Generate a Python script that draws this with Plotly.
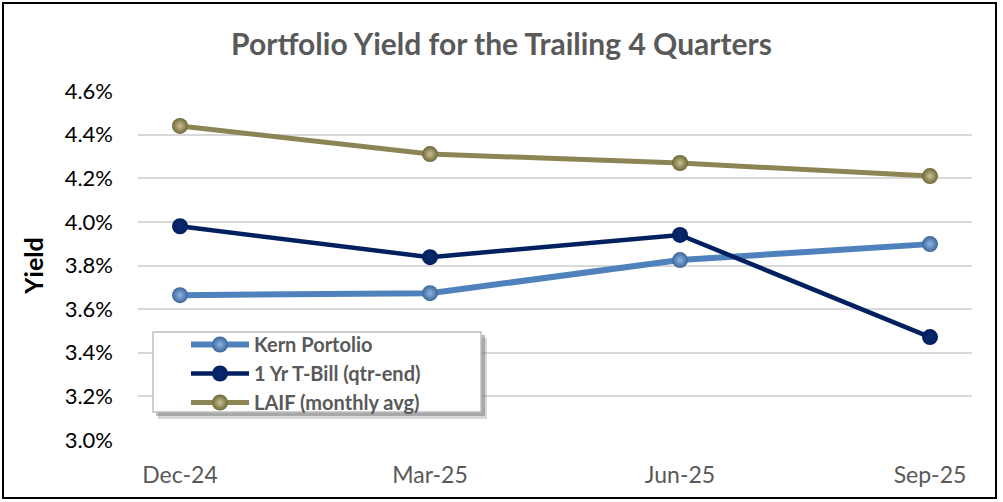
import plotly.graph_objects as go

categories = ["Dec-24", "Mar-25", "Jun-25", "Sep-25"]
kern = [3.664, 3.673, 3.825, 3.898]
tbill = [3.98, 3.838, 3.94, 3.472]
laif = [4.44, 4.311, 4.27, 4.21]
y_ticks = [3.0, 3.2, 3.4, 3.6, 3.8, 4.0, 4.2, 4.4, 4.6]
y_tick_labels = [f"{v:.1f}%" for v in y_ticks]

FONT = "Lato, Open Sans, sans-serif"

fig = go.Figure()
series = [
    ("Kern Portolio", kern, "#4F81BD", 6, "#3A6699", "#8DB6E6"),
    ("1 Yr T-Bill (qtr-end)", tbill, "#002060", 4.5, "#002060", "#0A2A6E"),
    ("LAIF (monthly avg)", laif, "#8C8455", 5, "#6E6738", "#C9C191"),
]
for name, vals, col, w, mcol, hi in series:
    fig.add_trace(go.Scatter(
        x=list(range(len(categories))), y=vals, name=f"<b>{name}</b>", mode="lines+markers",
        line=dict(color=col, width=w),
        marker=dict(size=16, color=mcol, gradient=dict(type="radial", color=hi),
                    line=dict(width=0)),
    ))

# plot area pixel geometry
L, R, T, B = 138, 31, 91, 62
W = 1003 - L - R
H = 502 - T - B

def px(x):
    return (x - L) / W

def py(y):
    return (502 - B - y) / H

shapes = [
    # outer border
    dict(type="rect", xref="paper", yref="paper", x0=px(3), x1=px(996), y0=py(498), y1=py(3),
         line=dict(color="black", width=2), fillcolor="rgba(0,0,0,0)", layer="above"),
    # legend shadow
    dict(type="rect", xref="paper", yref="paper", x0=px(158), x1=px(487), y0=py(419), y1=py(338),
         line=dict(width=0), fillcolor="rgba(140,140,140,0.35)", layer="above"),
    dict(type="rect", xref="paper", yref="paper", x0=px(156), x1=px(485), y0=py(416), y1=py(335),
         line=dict(width=0), fillcolor="rgba(110,110,110,0.45)", layer="above"),
    # legend box
    dict(type="rect", xref="paper", yref="paper", x0=px(153), x1=px(481), y0=py(412), y1=py(332),
         line=dict(color="#BFBFBF", width=1.5), fillcolor="white", layer="above"),
]

fig.update_layout(
    width=1003, height=502,
    margin=dict(l=L, r=R, t=T, b=B),
    paper_bgcolor="white", plot_bgcolor="white",
    title=dict(text="<b>Portfolio Yield for the Trailing 4 Quarters</b>", x=0.5, xref="container",
               xanchor="center", y=1 - 44 / 502, yanchor="middle",
               font=dict(family=FONT, size=30, color="#595959")),
    xaxis=dict(tickmode="array", tickvals=list(range(len(categories))), ticktext=categories,
               range=[-0.168, 3.168], showgrid=False, zeroline=False, showline=False,
               tickfont=dict(family=FONT, size=23, color="#595959"), ticks="",
               ticklabelstandoff=19),
    yaxis=dict(range=[3.0, 4.6], tickmode="array", tickvals=y_ticks, ticktext=y_tick_labels,
               showgrid=True, gridcolor="#D9D9D9", gridwidth=2, zeroline=False,
               tickfont=dict(family=FONT, size=22, color="black"), ticks="",
               ticklabelstandoff=24,
               title=dict(text="<b>Yield</b>", font=dict(family=FONT, size=25, color="black"),
                          standoff=13)),
    legend=dict(x=px(186), y=py(325), xanchor="left", yanchor="top",
                bgcolor="rgba(0,0,0,0)", borderwidth=0, itemwidth=58,
                font=dict(family=FONT, size=20, color="#595959"), tracegroupgap=0),
    shapes=shapes,
    showlegend=True,
)

fig.write_html("out.html", config={"displayModeBar": False},
               post_script="document.body.style.margin='0';document.body.style.padding='0';")
